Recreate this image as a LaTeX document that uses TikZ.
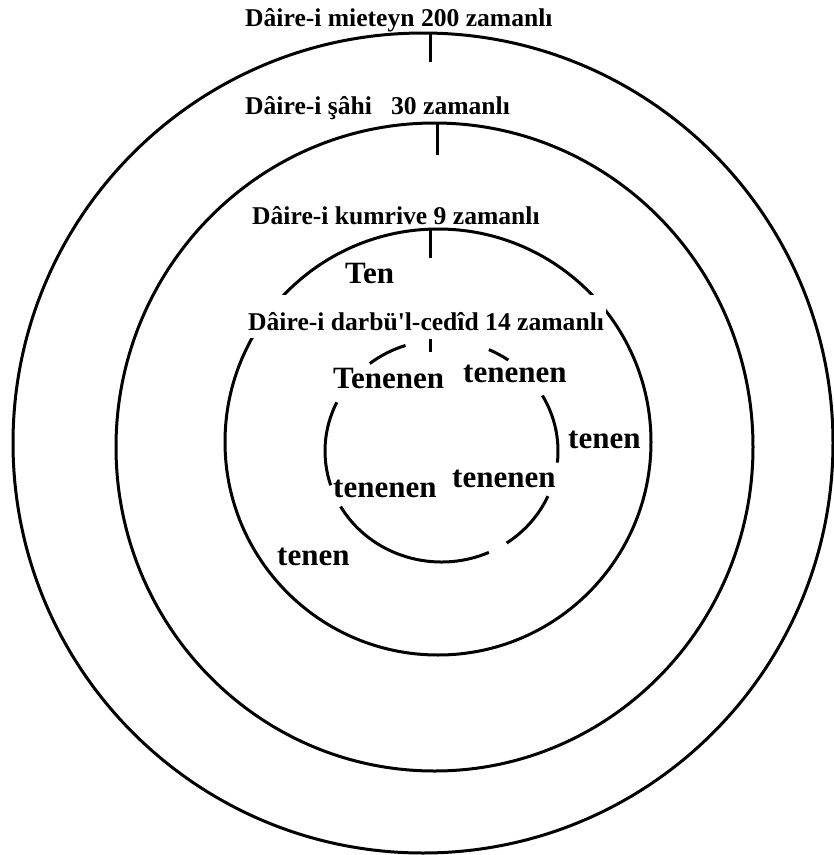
\documentclass[tikz,border=0pt]{standalone}
\usepackage{fontspec}
\setmainfont{Liberation Serif}
\begin{document}
\begin{tikzpicture}[x=1pt,y=-1pt,
  ring/.style={line width=3pt,black},
  tickline/.style={line width=3pt,black},
  headlabel/.style={font=\bfseries\fontsize{25.6}{30}\selectfont,anchor=base west,inner sep=0pt},
  smalllabel/.style={font=\bfseries\fontsize{31}{36}\selectfont,anchor=base west,inner sep=0pt}]
\useasboundingbox (0,0) rectangle (834,855);
% circles
\draw[ring] (423,443) ellipse [x radius=410, y radius=410];
\draw[ring] (434.5,447) ellipse [x radius=318.5, y radius=324];
\draw[ring] (438,442) circle [radius=213];
% inner broken circle (pixel angles, clockwise)
\def\icx{441.5}\def\icy{451}
\foreach \a/\b in {232/252, -66/-55, -30/6, 24/56, 66/150, 162/206}{
  \draw[ring] ({\icx+116.5*cos(\a)},{\icy+111*sin(\a)}) arc[start angle=\a, end angle=\b, x radius=116.5, y radius=111];
}
% headings
\node[headlabel] (h1) at (245,26) {Dâire-i mieteyn 200 zamanlı};
\node[headlabel] (h2) at (245,114) {Dâire-i şâhi\ \ \ 30 zamanlı};
\node[headlabel] (h3) at (252,224) {Dâire-i kumrive 9 zamanlı};
\node[headlabel,fill=white,inner xsep=2pt,text height=35pt,text depth=8pt] (h4) at (246,330) {Dâire-i darbü\textquotesingle l-cedîd 14 zamanlı};
% ticks
\coordinate (t1a) at (430,32); \coordinate (t1b) at (430,62);
\coordinate (t2a) at (437,123); \coordinate (t2b) at (437,155);
\coordinate (t3a) at (430,230); \coordinate (t3b) at (430,258);
\coordinate (t4a) at (430,339); \coordinate (t4b) at (430,352);
\draw[tickline] (t1a) -- (t1b);
\draw[tickline] (t2a) -- (t2b);
\draw[tickline] (t3a) -- (t3b);
\draw[tickline] (t4a) -- (t4b);
% syllable labels
\node[smalllabel] (l1) at (345,283) {Ten};
\node[smalllabel] (l2) at (333,388) {Tenenen};
\node[smalllabel] (l3) at (463,382) {tenenen};
\node[smalllabel] (l4) at (568,448) {tenen};
\node[smalllabel] (l5) at (452,487) {tenenen};
\node[smalllabel] (l6) at (333,497) {tenenen};
\node[smalllabel] (l7) at (277,565) {tenen};
\end{tikzpicture}
\end{document}
